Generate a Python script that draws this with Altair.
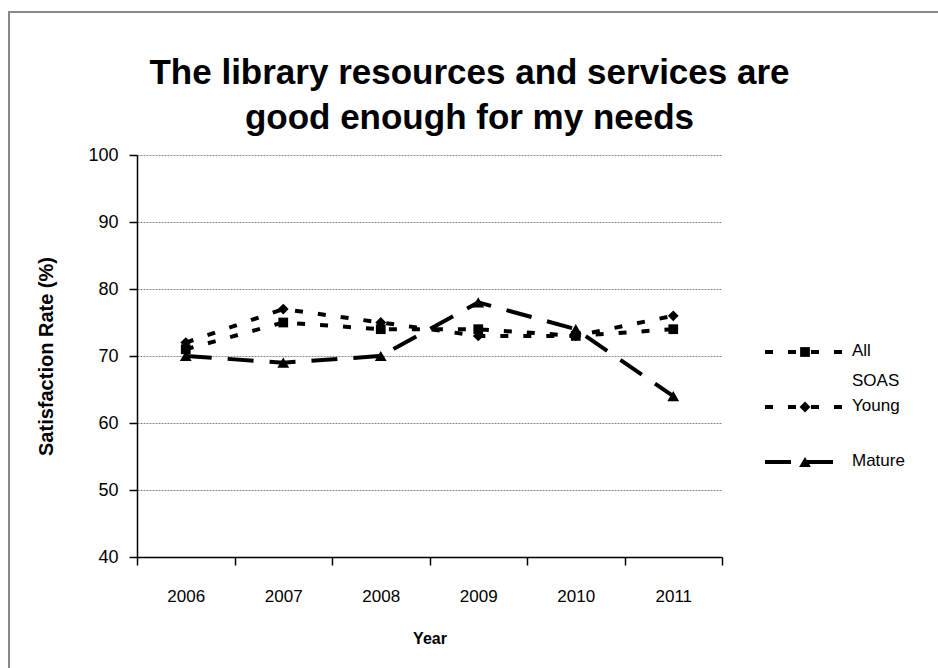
import altair as alt
import pandas as pd

years = [2006, 2007, 2008, 2009, 2010, 2011]
all_soas = [71, 75, 74, 74, 73, 74]
young = [72, 77, 75, 73, 73, 76]
mature = [70, 69, 70, 78, 74, 64]

series_names = ["All SOAS", "Young", "Mature"]
legend_labels = ["All\nSOAS", "Young", "Mature"]
y_ticks = [40, 50, 60, 70, 80, 90, 100]

rows = []
for name, vals in zip(series_names, [all_soas, young, mature]):
    for yr, v in zip(years, vals):
        rows.append({"year": yr, "value": v, "series": name})
df = pd.DataFrame(rows)
legend_df = pd.DataFrame({"series": series_names, "label": legend_labels})

FONT = "Liberation Sans"
W, H = 585, 402
PL, PT = 137, 155

x_vals = [2005.5 + 0.5 * i for i in range(13)]

dash_scale = alt.Scale(domain=series_names, range=[[8, 15], [8, 15], [26, 16]])
shape_scale = alt.Scale(domain=series_names, range=["square", "diamond", "triangle-up"])
size_scale = alt.Scale(domain=series_names, range=[95, 140, 165])
width_scale = alt.Scale(domain=series_names, range=[4, 4, 3.5])

x_enc = alt.X(
    "year:Q",
    scale=alt.Scale(domain=[2005.5, 2011.5], nice=False, zero=False),
    axis=alt.Axis(
        title="Year",
        values=x_vals,
        labelExpr="datum.value % 1 === 0 ? format(datum.value, 'd') : ''",
        tickOpacity={"condition": {"test": "datum.value % 1 === 0", "value": 0}, "value": 1},
        labelOverlap=False,
        labelFlush=False,
        grid=False,
        tickSize=8,
        labelPadding=23,
        titlePadding=26,
        labelFontSize=17,
        titleFontSize=16,
        titleFontWeight="bold",
        labelFont=FONT,
        titleFont=FONT,
        domainColor="black",
        tickColor="black",
        labelColor="black",
        titleColor="black",
        domainWidth=1.5,
        tickWidth=1.5,
    ),
)
y_enc = alt.Y(
    "value:Q",
    scale=alt.Scale(domain=[40, 100], nice=False, zero=False),
    axis=alt.Axis(
        title="Satisfaction Rate (%)",
        values=y_ticks,
        grid=True,
        gridColor="#888888",
        gridDash=[2, 1],
        gridWidth=1,
        tickSize=8,
        labelPadding=11,
        titlePadding=31,
        labelFontSize=18,
        titleFontSize=20,
        titleFontWeight="bold",
        labelFont=FONT,
        titleFont=FONT,
        domainColor="black",
        tickColor="black",
        labelColor="black",
        titleColor="black",
        domainWidth=1.5,
        tickWidth=1.5,
    ),
)

lines = alt.Chart(df).mark_line(color="black").encode(
    x=x_enc,
    y=y_enc,
    strokeDash=alt.StrokeDash("series:N", scale=dash_scale, legend=None),
    strokeWidth=alt.StrokeWidth("series:N", scale=width_scale, legend=None),
    detail="series:N",
)
points = alt.Chart(df).mark_point(filled=True, color="black", opacity=1).encode(
    x=x_enc,
    y=y_enc,
    shape=alt.Shape("series:N", scale=shape_scale, legend=None),
    size=alt.Size("series:N", scale=size_scale, legend=None),
)
main = alt.layer(lines, points)

leg_y = alt.Y(
    "series:N",
    scale=alt.Scale(type="point", domain=series_names, range=[352 - PT, 462 - PT], padding=0),
    axis=None,
)
leg_rule = alt.Chart(legend_df).mark_rule(color="black").encode(
    x=alt.value(765 - PL),
    x2=alt.value(845 - PL),
    y=leg_y,
    strokeDash=alt.StrokeDash("series:N", scale=dash_scale, legend=None),
    strokeWidth=alt.StrokeWidth("series:N", scale=width_scale, legend=None),
)
leg_pts = alt.Chart(legend_df).mark_point(filled=True, color="black", opacity=1).encode(
    x=alt.value(805 - PL),
    y=leg_y,
    shape=alt.Shape("series:N", scale=shape_scale, legend=None),
    size=alt.Size("series:N", scale=size_scale, legend=None),
)
leg_txt = alt.Chart(legend_df).mark_text(
    align="left", baseline="top", dy=-9, lineBreak="\n", lineHeight=30,
    fontSize=17, font=FONT, color="black",
).encode(
    x=alt.value(852 - PL),
    y=leg_y,
    text="label:N",
)
legend = alt.layer(leg_rule, leg_pts, leg_txt)

border = alt.Chart(pd.DataFrame({"a": [0]})).mark_rect(
    fillOpacity=0, stroke="#888888", strokeWidth=2
).encode(
    x=alt.value(9 - PL), x2=alt.value(1000), y=alt.value(12 - PT), y2=alt.value(700),
)

chart = alt.layer(border, main, legend).resolve_scale(y="independent").properties(
    width=W,
    height=H,
    autosize="none",
    padding={"left": PL, "top": PT, "right": 938 - PL - W, "bottom": 668 - PT - H},
    title=alt.TitleParams(
        ["The library resources and services are", "good enough for my needs"],
        fontSize=35, font=FONT, fontWeight="bold", lineHeight=45,
        anchor="middle", dx=40, offset=-125, color="black",
    ),
    background="white",
).configure_view(stroke=None)

chart.save("out.html", embed_options={"renderer": "svg", "actions": False})
